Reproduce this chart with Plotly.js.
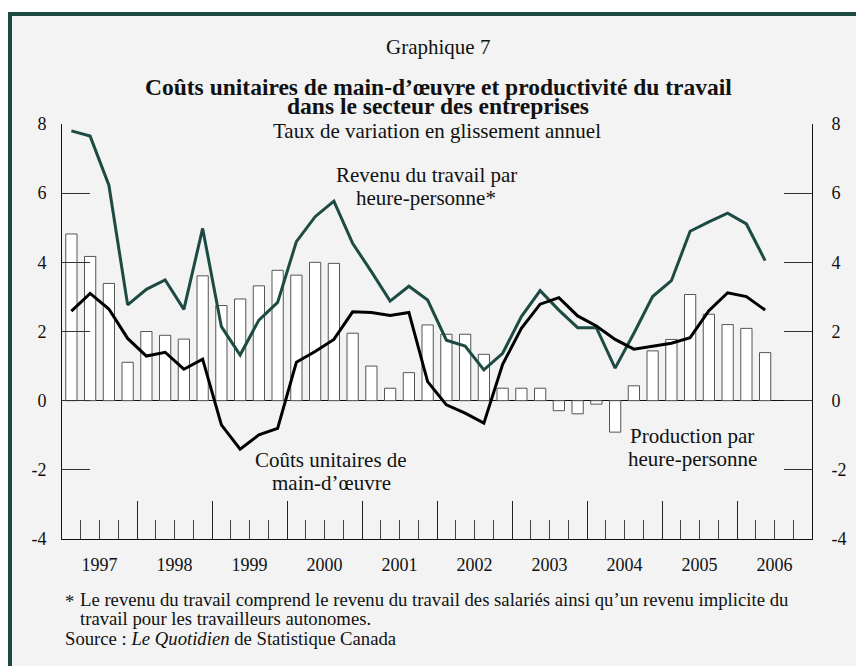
<!DOCTYPE html>
<html>
<head>
<meta charset="utf-8">
<script src="https://cdn.plot.ly/plotly-3.0.1.min.js"></script>
<style>
  body { margin: 0; background: #ffffff; }
  #chart { width: 856px; height: 666px; }
</style>
</head>
<body>
<div id="chart"></div>
<script>
// Données trimestrielles, 1997T1 - 2006T2
let years = [1997, 1998, 1999, 2000, 2001, 2002, 2003, 2004, 2005, 2006];
let yearLabels = ['1997', '1998', '1999', '2000', '2001', '2002', '2003', '2004', '2005', '2006'];
let yTicks = [-4, -2, 0, 2, 4, 6, 8];
let yTickText = ['-4', '-2', '0', '2', '4', '6', '8'];

// Production par heure-personne (barres)
let productivite = [4.82, 4.17, 3.39, 1.11, 2.0, 1.89, 1.78, 3.61, 2.75, 2.94, 3.32, 3.77,
  3.63, 4.0, 3.97, 1.95, 1.0, 0.36, 0.81, 2.19, 1.92, 1.92, 1.34, 0.36,
  0.36, 0.36, -0.29, -0.38, -0.1, -0.91, 0.43, 1.44, 1.77, 3.07, 2.5, 2.2,
  2.09, 1.39];

// Revenu du travail par heure-personne
let revenu = [7.80, 7.65, 6.23, 2.77, 3.22, 3.49, 2.64, 4.98, 2.14, 1.32, 2.33, 2.84,
  4.6, 5.32, 5.77, 4.55, 3.73, 2.88, 3.31, 2.91, 1.75, 1.58, 0.89, 1.37,
  2.43, 3.18, 2.62, 2.11, 2.11, 0.94, 1.95, 3.01, 3.47, 4.9, 5.17, 5.42,
  5.11, 4.05];

// Coûts unitaires de main-d'oeuvre
let couts = [2.59, 3.1, 2.65, 1.8, 1.29, 1.4, 0.91, 1.2, -0.70, -1.40, -0.99, -0.80,
  1.11, 1.42, 1.77, 2.57, 2.55, 2.46, 2.55, 0.55, -0.12, -0.36, -0.65, 1.05,
  2.09, 2.79, 2.98, 2.45, 2.16, 1.77, 1.49, 1.58, 1.66, 1.82, 2.6, 3.12,
  3.01, 2.62];

// position of each quarter (middle of the quarter)
let xq = productivite.map((v, i) => 1997 + Math.floor(i / 4) + ((i % 4) + 0.5) / 4);
let yearMid = years.map(y => y + 0.5);

let green = '#1d4b44';
let serif = 'Liberation Serif, Times New Roman, serif';

let traceBars = {
  x: xq,
  y: productivite,
  type: 'bar',
  width: 0.15,
  marker: { color: '#ffffff', line: { color: '#555555', width: 1 } },
  hoverinfo: 'x+y'
};
let traceRevenu = {
  x: xq,
  y: revenu,
  type: 'scatter',
  mode: 'lines',
  line: { color: green, width: 3 }
};
let traceCouts = {
  x: xq,
  y: couts,
  type: 'scatter',
  mode: 'lines',
  line: { color: '#000000', width: 3 }
};
// empty trace so the label axis and right axis get drawn
let traceAxes = {
  x: yearMid,
  y: yearMid.map(() => null),
  xaxis: 'x2',
  yaxis: 'y2',
  type: 'scatter',
  mode: 'lines',
  hoverinfo: 'skip'
};

let data = [traceBars, traceRevenu, traceCouts, traceAxes];

// plot area: x 62..812, y 124..539
function py(pix) { return (539 - pix) / 415; }
function px(pix) { return (pix - 62) / 750; }

// one text line, placed in pixels
function line(text, x, y, size, anchor) {
  return {
    text: text, xref: 'paper', yref: 'paper', x: px(x), y: py(y),
    xanchor: anchor || 'center', yanchor: 'middle',
    showarrow: false, font: { size: size }
  };
}

let layout = {
  width: 856,
  height: 666,
  margin: { l: 62, r: 44, t: 124, b: 127 },
  paper_bgcolor: '#ffffff',
  plot_bgcolor: 'rgba(0,0,0,0)',
  showlegend: false,
  font: { family: serif, size: 18, color: '#111111' },
  bargap: 0,
  xaxis: {
    range: [1997, 2007],
    tick0: 1997,
    dtick: 1,
    ticks: 'inside',
    ticklen: 38,
    tickwidth: 1,
    tickcolor: '#222222',
    showticklabels: false,
    minor: { dtick: 0.25, tick0: 1997, ticks: 'inside', ticklen: 19, tickwidth: 1, tickcolor: '#444444' },
    showline: true,
    linecolor: '#111111',
    linewidth: 1,
    showgrid: false,
    zeroline: false,
    fixedrange: true
  },
  xaxis2: {
    overlaying: 'x',
    anchor: 'y2',
    side: 'bottom',
    range: [1997, 2007],
    tickmode: 'array',
    tickvals: yearMid,
    ticktext: yearLabels,
    ticks: '',
    ticklabelstandoff: 13,
    showline: false,
    showgrid: false,
    zeroline: false,
    tickfont: { family: serif, size: 18, color: '#111111' }
  },
  yaxis: {
    range: [-4, 8],
    tickmode: 'array',
    tickvals: yTicks,
    ticktext: yTickText,
    ticks: 'inside',
    ticklen: 28,
    tickwidth: 1,
    tickcolor: '#333333',
    ticklabelstandoff: 11,
    showline: true,
    linecolor: '#111111',
    linewidth: 1,
    showgrid: false,
    zeroline: true,
    zerolinecolor: '#111111',
    zerolinewidth: 1.5,
    tickfont: { family: serif, size: 18, color: '#111111' }
  },
  yaxis2: {
    overlaying: 'y',
    anchor: 'x2',
    side: 'right',
    range: [-4, 8],
    tickmode: 'array',
    tickvals: yTicks,
    ticktext: yTickText,
    ticks: 'inside',
    ticklen: 28,
    tickwidth: 1,
    tickcolor: '#333333',
    ticklabelstandoff: 15,
    showline: true,
    linecolor: '#111111',
    linewidth: 1,
    showgrid: false,
    zeroline: false,
    tickfont: { family: serif, size: 18, color: '#111111' }
  },
  shapes: [{
    type: 'rect',
    xref: 'paper', yref: 'paper',
    x0: px(10), x1: px(880), y0: py(690), y1: py(14),
    fillcolor: '#f2f3f2',
    line: { color: green, width: 4 },
    layer: 'below'
  }],
  annotations: [
    line('Graphique 7', 438, 47, 21),
    line('<b>Coûts unitaires de main-d’œuvre et productivité du travail</b>', 438, 87, 23.5),
    line('<b>dans le secteur des entreprises</b>', 438, 106, 23.5),
    line('Taux de variation en glissement annuel', 437, 131, 21),
    line('Revenu du travail par', 426, 175, 21),
    line('heure-personne*', 426, 198, 21),
    line('Coûts unitaires de', 331, 460, 21),
    line('main-d’œuvre', 331, 483, 21),
    line('Production par', 692, 436, 21),
    line('heure-personne', 692, 459, 21),
    line('*', 63, 601, 18.7, 'left'),
    line('Le revenu du travail comprend le revenu du travail des salariés ainsi qu’un revenu implicite du', 78, 599, 18.7, 'left'),
    line('travail pour les travailleurs autonomes.', 78, 618, 18.7, 'left'),
    line('Source : <i>Le Quotidien</i> de Statistique Canada', 63, 638, 18.7, 'left')
  ]
};

Plotly.newPlot('chart', data, layout, { displayModeBar: false, staticPlot: true });
</script>
</body>
</html>
